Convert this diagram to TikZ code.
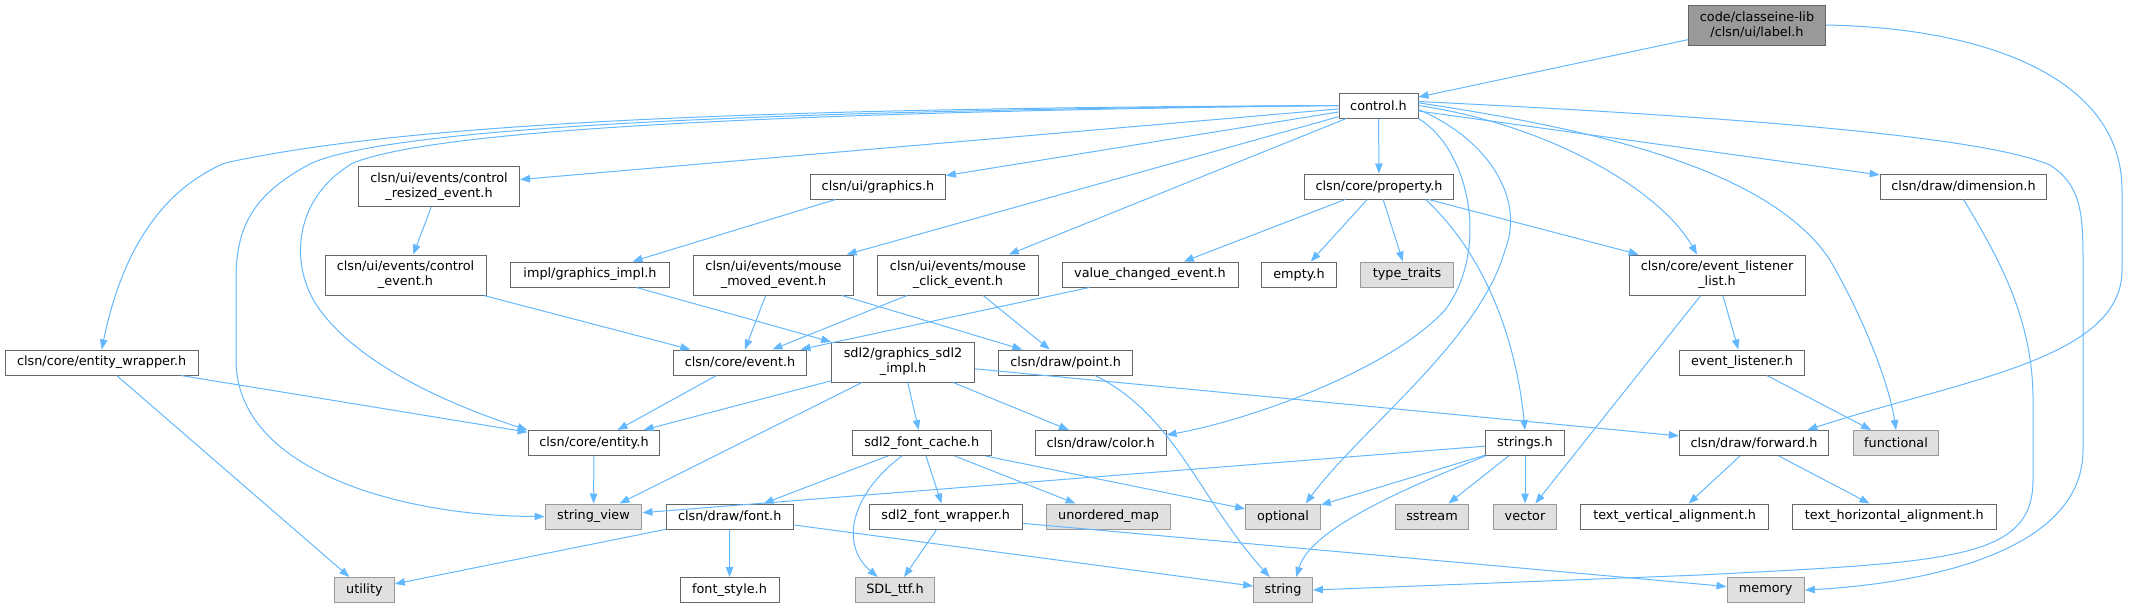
\documentclass[tikz,border=0pt]{standalone}
\usepackage{fontspec}
\setmainfont{DejaVu Sans}
\usetikzlibrary{arrows.meta}

\definecolor{edgeblue}{HTML}{63B8FF}
\definecolor{boxline}{HTML}{666666}
\definecolor{sysfill}{HTML}{E0E0E0}
\definecolor{sysline}{HTML}{999999}
\definecolor{topfill}{HTML}{999999}

\tikzset{
  hdr/.style={draw=boxline, fill=white, line width=0.75pt, inner sep=2pt,
    minimum height=18.75pt, align=center, font=\fontsize{9.6}{11.25}\selectfont},
  hdrtwo/.style={hdr, minimum height=30pt},
  sys/.style={hdr, draw=sysline, fill=sysfill},
  dep/.style={draw=edgeblue, line width=0.75pt, -{Triangle[length=7.5pt,width=5.6pt]}}
}

\begin{document}
\begin{tikzpicture}[x=0.75pt,y=-0.75pt]
  \useasboundingbox (0,0) rectangle (2145,608);

  \node[hdrtwo, fill=topfill, minimum width=102.75pt] (lbl) at (1757,25) {code/classeine-lib\\/clsn/ui/label.h};
  \node[hdr, minimum width=59.25pt] (ctl) at (1378.5,105.5) {control.h};
  \node[hdrtwo, minimum width=120.75pt] (crs) at (439,186.5) {clsn/ui/events/control\\\_resized\_event.h};
  \node[hdr, minimum width=101pt] (gfx) at (878,186.5) {clsn/ui/graphics.h};
  \node[hdr, minimum width=112pt] (prp) at (1379,186.5) {clsn/core/property.h};
  \node[hdr, minimum width=125pt] (dim) at (1963.5,186.5) {clsn/draw/dimension.h};
  \node[hdrtwo, minimum width=120.75pt] (cev) at (405.5,275) {clsn/ui/events/control\\\_event.h};
  \node[hdr, minimum width=118.8pt] (gim) at (590,274.5) {impl/graphics\_impl.h};
  \node[hdrtwo, minimum width=120.6pt] (mmv) at (773.5,275) {clsn/ui/events/mouse\\\_moved\_event.h};
  \node[hdrtwo, minimum width=120.2pt] (mck) at (958,275) {clsn/ui/events/mouse\\\_click\_event.h};
  \node[hdr, minimum width=132pt] (vce) at (1150,274.5) {value\_changed\_event.h};
  \node[hdr, minimum width=56.2pt] (emp) at (1299,274.5) {empty.h};
  \node[sys, minimum width=69.4pt] (ttr) at (1407,274.5) {type\_traits};
  \node[hdrtwo, minimum width=132pt] (ell) at (1717,275) {clsn/core/event\_listener\\\_list.h};
  \node[hdr, minimum width=145pt] (ewr) at (101.7,362.5) {clsn/core/entity\_wrapper.h};
  \node[hdr, minimum width=100pt] (evt) at (740,362.5) {clsn/core/event.h};
  \node[hdrtwo, minimum width=107pt] (sdl) at (903,362) {sdl2/graphics\_sdl2\\\_impl.h};
  \node[hdr, minimum width=100.2pt] (pnt) at (1065.7,362.5) {clsn/draw/point.h};
  \node[hdr, minimum width=94pt] (evl) at (1742,362.5) {event\_listener.h};
  \node[hdr, minimum width=98.9pt] (ent) at (594,443) {clsn/core/entity.h};
  \node[hdr, minimum width=104pt] (fch) at (921.7,443) {sdl2\_font\_cache.h};
  \node[hdr, minimum width=98.1pt] (col) at (1100.6,443) {clsn/draw/color.h};
  \node[hdr, minimum width=58.6pt] (sts) at (1525,443) {strings.h};
  \node[hdr, minimum width=112pt] (fwd) at (1754,443) {clsn/draw/forward.h};
  \node[sys, minimum width=64.4pt] (fun) at (1896,443) {functional};
  \node[sys, minimum width=72.7pt] (svw) at (593.5,516.5) {string\_view};
  \node[hdr, minimum width=95.2pt] (fnt) at (729.7,516.5) {clsn/draw/font.h};
  \node[hdr, minimum width=115pt] (fwr) at (945.7,516.5) {sdl2\_font\_wrapper.h};
  \node[sys, minimum width=93pt] (umap) at (1108.6,516.5) {unordered\_map};
  \node[sys, minimum width=56.1pt] (opt) at (1283,516.5) {optional};
  \node[sys, minimum width=55pt] (sst) at (1432,516.5) {sstream};
  \node[sys, minimum width=46.8pt] (vec) at (1525,516.5) {vector};
  \node[hdr, minimum width=140.9pt] (tva) at (1674.6,516.5) {text\_vertical\_alignment.h};
  \node[hdr, minimum width=152.9pt] (tha) at (1894.3,516.5) {text\_horizontal\_alignment.h};
  \node[sys, minimum width=45pt] (utl) at (364.4,590) {utility};
  \node[hdr, minimum width=74.25pt] (fst) at (729.5,590) {font\_style.h};
  \node[sys, minimum width=59.9pt] (ttf) at (895,590) {SDL\_ttf.h};
  \node[sys, minimum width=44.1pt] (str) at (1283,590) {string};
  \node[sys, minimum width=58pt] (mem) at (1765.7,590) {memory};

  \draw[dep] (lbl) -- (ctl);
  \draw[dep] (lbl.east) .. controls (1990,28) and (2122,80) .. (2122,190) -- (2122,270)
    .. controls (2122,360) and (1960,380) .. ([xshift=40pt]fwd.north);

  \draw[dep] (ctl) -- (crs);
  \draw[dep] (ctl) -- (gfx);
  \draw[dep] (ctl) -- (prp);
  \draw[dep] (ctl) -- (mmv);
  \draw[dep] (ctl) -- (mck);
  \draw[dep] (ctl) -- (dim);
  \draw[dep] (ctl.west) .. controls (800,108) and (420,120) .. (225,163)
    .. controls (150,195) and (118,270) .. (ewr.north);
  \draw[dep] (ctl.west) .. controls (800,110) and (400,125) .. (312,163)
    .. controls (250,195) and (236,230) .. (236,280) -- (236,360)
    .. controls (236,470) and (400,516) .. (svw.west);
  \draw[dep] (ctl.west) .. controls (800,112) and (440,128) .. (353,163)
    .. controls (290,200) and (290,270) .. (320,310)
    .. controls (360,365) and (450,405) .. (ent.north west);
  \draw[dep] (ctl.east) .. controls (1550,125) and (1660,190) .. ([xshift=-15pt]ell.north);
  \draw[dep] (ctl.south east) .. controls (1470,150) and (1490,250) .. (1445,310)
    .. controls (1390,370) and (1250,420) .. ([yshift=6pt]col.east);
  \draw[dep] ([yshift=-3pt]ctl.east) .. controls (1490,140) and (1525,200) .. (1505,250)
    .. controls (1480,340) and (1360,430) .. ([xshift=17pt]opt.north);
  \draw[dep] ([yshift=2pt]ctl.east) .. controls (1600,130) and (1770,170) .. (1830,260)
    .. controls (1870,330) and (1890,390) .. (fun.north);
  \draw[dep] ([yshift=3pt]ctl.east) .. controls (1800,120) and (1990,140) .. (2050,165)
    .. controls (2080,185) and (2083,210) .. (2083,260) -- (2083,450)
    .. controls (2083,560) and (1900,585) .. (mem.east);

  \draw[dep] (prp) -- (vce);
  \draw[dep] (prp) -- (emp);
  \draw[dep] (prp) -- (ttr);
  \draw[dep] (prp) -- (ell);
  \draw[dep] ([xshift=35pt]prp.south) .. controls (1480,250) and (1515,330) .. (sts.north);

  \draw[dep] (crs) -- (cev);
  \draw[dep] (cev) -- (evt);
  \draw[dep] (gfx) -- (gim);
  \draw[dep] (gim) -- (sdl);
  \draw[dep] (vce) -- (evt);
  \draw[dep] (mmv) -- (evt);
  \draw[dep] (mmv) -- (pnt);
  \draw[dep] (mck) -- (evt);
  \draw[dep] (mck) -- (pnt);
  \draw[dep] (dim.south) .. controls (2000,260) and (2033,320) .. (2033,400) -- (2033,480)
    .. controls (2033,560) and (1950,562) .. (1700,575) -- (str.east);

  \draw[dep] (ell) -- (vec);
  \draw[dep] (ell) -- (evl);
  \draw[dep] (evl) -- (fun);

  \draw[dep] (ewr) -- (ent);
  \draw[dep] (ewr) -- (utl);
  \draw[dep] (evt) -- (ent);
  \draw[dep] (sdl) -- (ent);
  \draw[dep] (sdl) -- (svw);
  \draw[dep] (sdl) -- (fch);
  \draw[dep] (sdl) -- (col);
  \draw[dep] (sdl) -- (fwd);
  \draw[dep] ([xshift=22pt]pnt.south) .. controls (1175,415) and (1200,500) .. ([xshift=-10pt]str.north);

  \draw[dep] (ent) -- (svw);
  \draw[dep] (fch) -- (fnt);
  \draw[dep] (fch) -- (fwr);
  \draw[dep] (fch) -- (umap);
  \draw[dep] (fch) -- (opt);
  \draw[dep] ([xshift=-15pt]fch.south) .. controls (850,495) and (840,545) .. ([xshift=-13pt]ttf.north);

  \draw[dep] (sts) -- (svw);
  \draw[dep] (sts) -- (opt);
  \draw[dep] (sts) -- (sst);
  \draw[dep] (sts) -- (vec);
  \draw[dep] (sts.south west) .. controls (1400,490) and (1310,530) .. ([xshift=10pt]str.north);
  \draw[dep] (fwd) -- (tva);
  \draw[dep] (fwd) -- (tha);

  \draw[dep] (fnt) -- (utl);
  \draw[dep] (fnt) -- (fst);
  \draw[dep] (fnt) -- (str);
  \draw[dep] (fwr) -- (ttf);
  \draw[dep] (fwr) -- (mem);
\end{tikzpicture}
\end{document}
